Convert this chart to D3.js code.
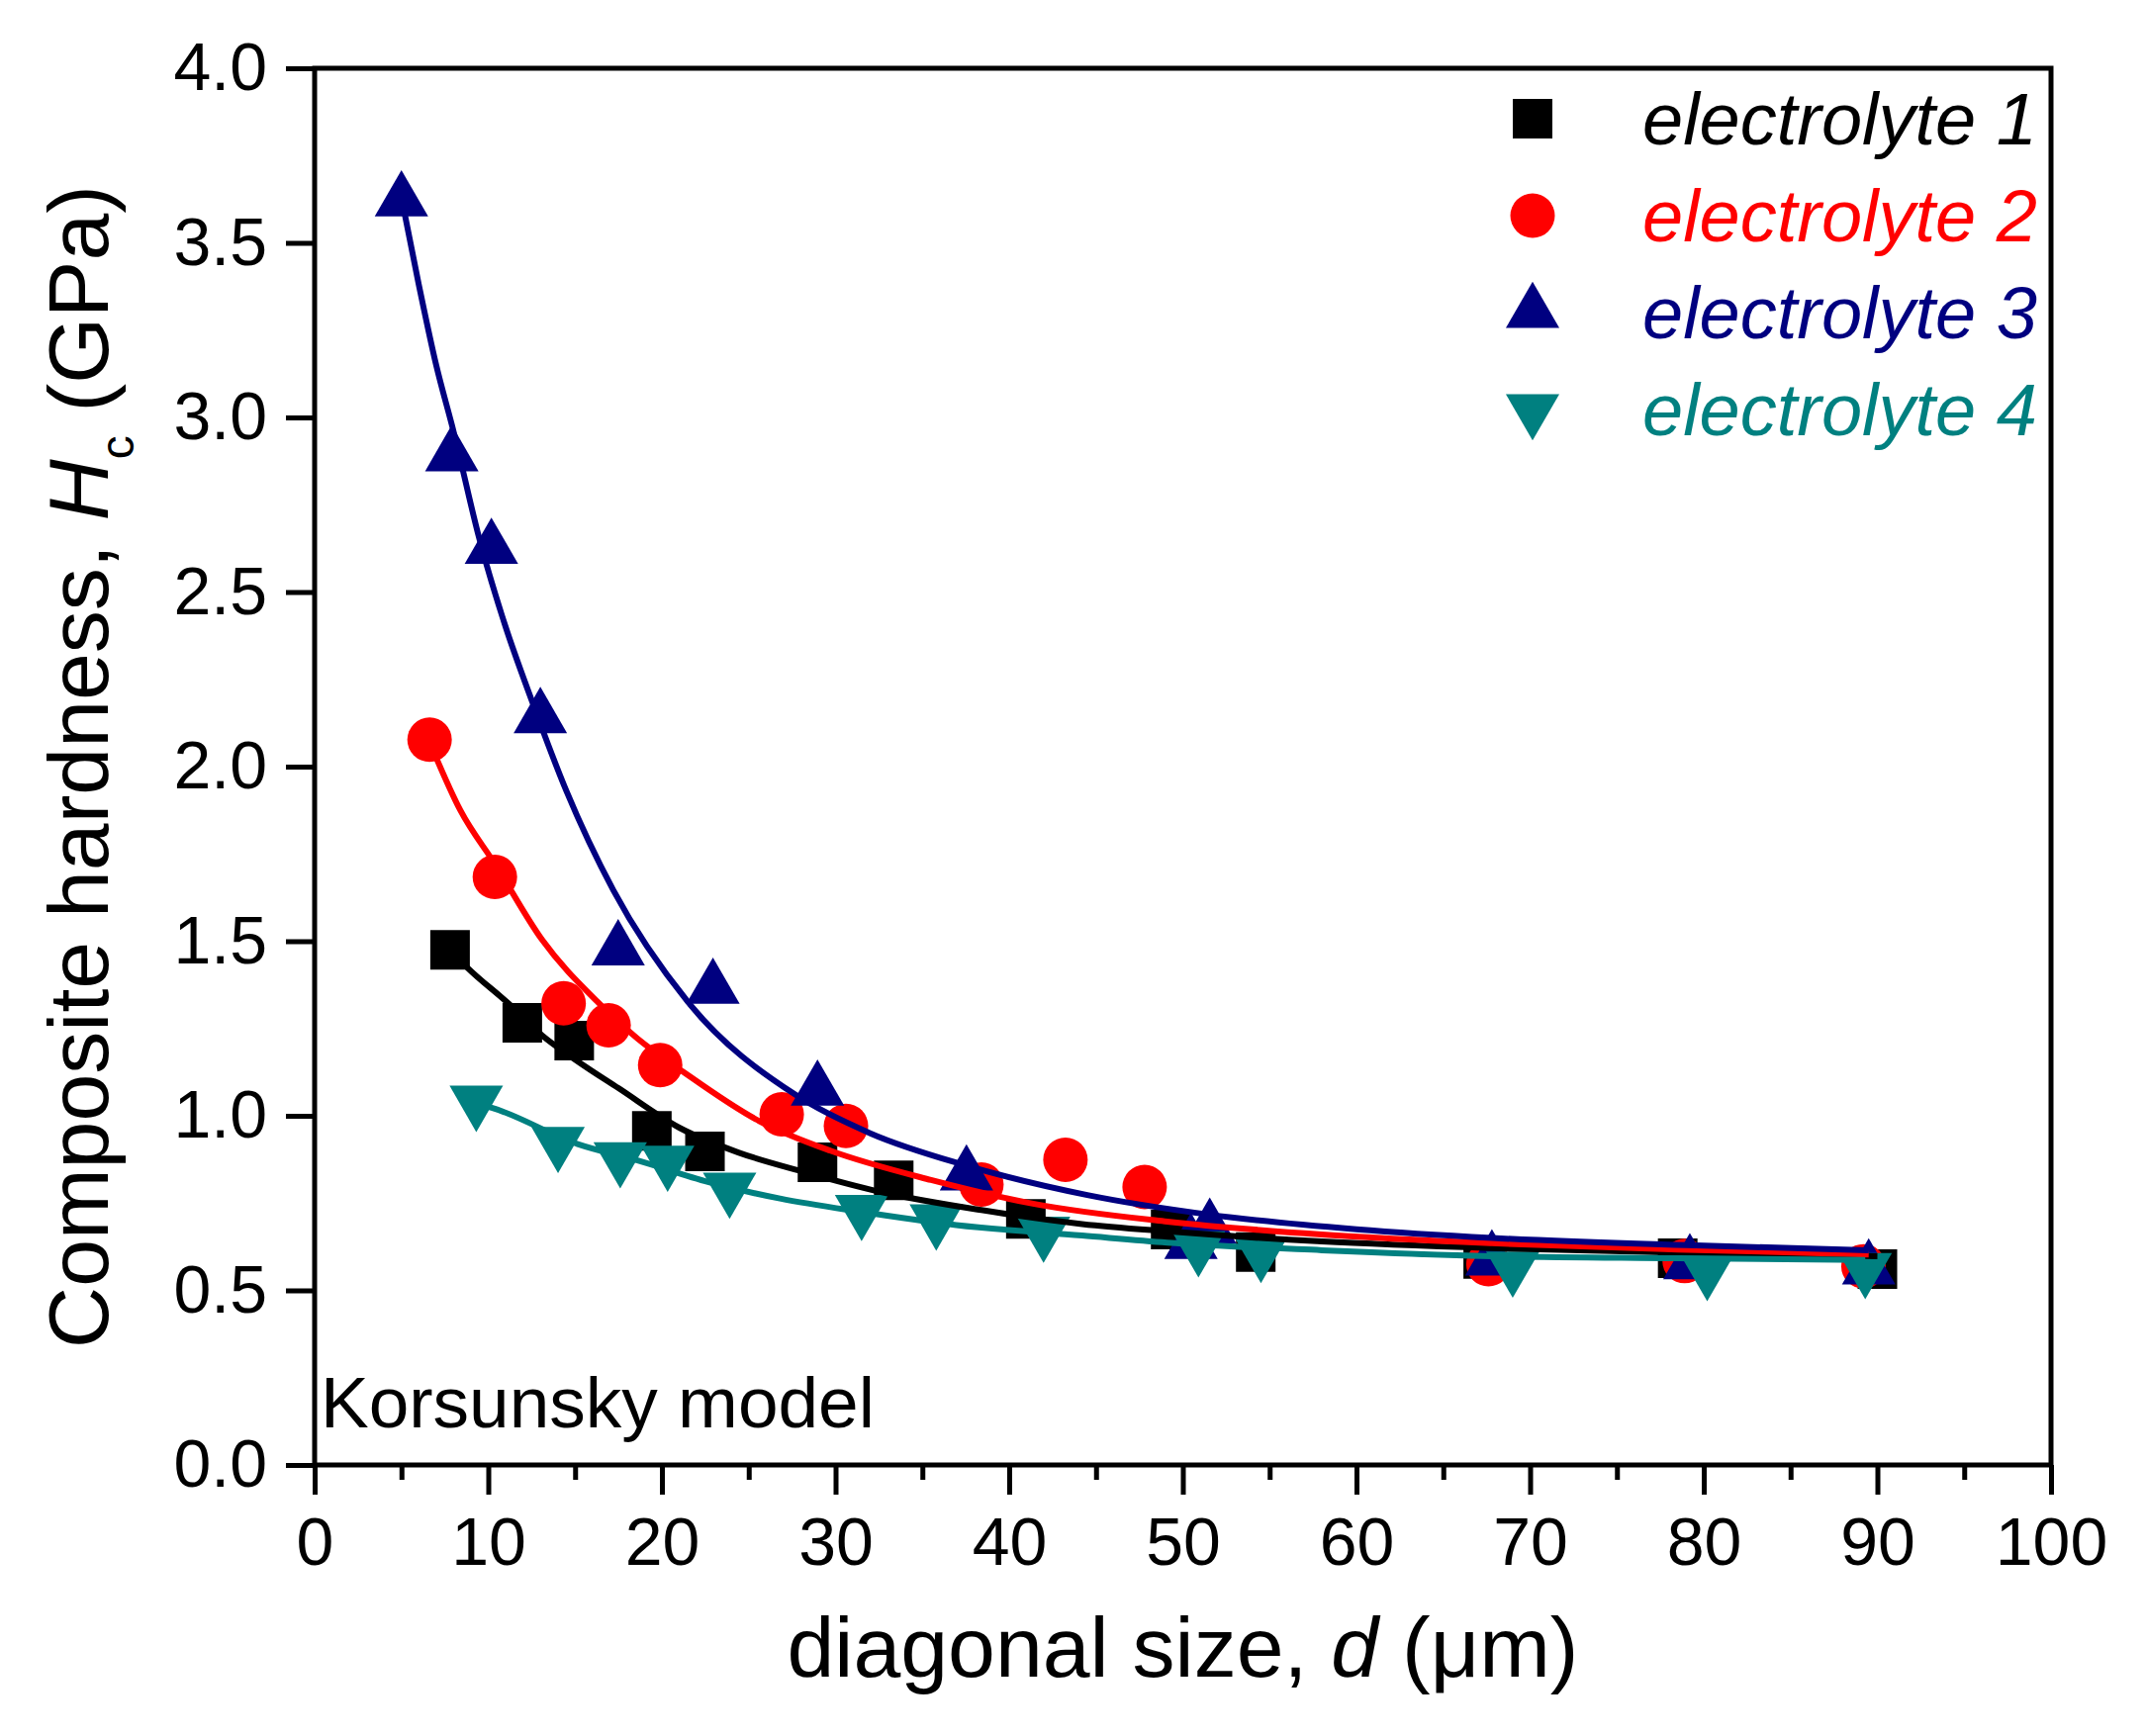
<!DOCTYPE html>
<html lang="en">
<head>
<meta charset="UTF-8">
<script src="https://cdn.jsdelivr.net/npm/d3@7"></script>
<title>Composite hardness</title>
<style>
    body { margin: 0; background: #fff; }
    text { font-family: "Liberation Sans", Arial, sans-serif; }
</style>
</head>
<body>
<svg id="canvas" width="2169" height="1755"></svg>
<script>
// series names and colours
var names  = ["electrolyte 1", "electrolyte 2", "electrolyte 3", "electrolyte 4"];
var colors = ["#000000", "#ff0000", "#000080", "#008080"];

// measured points [d (um), Hc (GPa)]
var points1 = [[7.8,1.475],[11.96,1.266],[14.95,1.215],[19.42,0.957],[22.48,0.898],[28.96,0.867],[33.35,0.815],
               [40.96,0.705],[49.3,0.674],[54.2,0.61],[67.3,0.59],[78.5,0.592],[90.0,0.561]];
var points2 = [[6.62,2.077],[10.38,1.684],[14.34,1.322],[16.93,1.259],[19.9,1.145],[26.9,1.004],[30.6,0.971],
               [38.4,0.803],[43.24,0.874],[47.8,0.796],[67.6,0.575],[78.9,0.584],[89.2,0.569]];
var points3 = [[5.0,3.62],[7.9,2.89],[10.18,2.625],[13.0,2.14],[17.48,1.475],[22.94,1.365],[28.96,1.073],
               [37.54,0.83],[50.47,0.634],[51.55,0.678],[67.8,0.587],[79.2,0.576],[89.5,0.561]];
var points4 = [[9.31,1.042],[14.02,0.924],[17.6,0.88],[20.33,0.87],[23.9,0.793],[31.5,0.729],[35.8,0.702],
               [41.98,0.667],[50.9,0.625],[54.5,0.609],[69.0,0.567],[80.2,0.557],[89.3,0.563]];

// Korsunsky model curves
var fit1 = [[7.8,1.475],[8.8,1.424],[11.2,1.32],[13.1,1.23],[15.15,1.156],[17.5,1.079],[21,0.966],[24.4,0.895],
            [28.2,0.839],[32.6,0.782],[38.4,0.73],[44.2,0.69],[49.1,0.669],[58,0.64],[67.8,0.621],[78.5,0.608],[90,0.598]];
var fit2 = [[6.62,2.07],[8.4,1.874],[10.4,1.72],[13.1,1.504],[16.3,1.326],[18.6,1.221],[21.2,1.127],[25.6,0.985],
            [29.7,0.90],[35.5,0.816],[41.3,0.749],[49.1,0.697],[58,0.66],[67.8,0.635],[78.5,0.617],[89.5,0.603]];
var fit3 = [[5.0,3.63],[6.0,3.38],[7.0,3.15],[8.0,2.96],[9.5,2.65],[11,2.40],[12.5,2.19],[14.5,1.93],[17.2,1.646],
            [21.5,1.326],[27.7,1.06],[32,0.95],[37.5,0.858],[44.5,0.773],[51.5,0.717],[60,0.675],[67.8,0.65],
            [80,0.628],[89.5,0.615]];
var fit4 = [[9.31,1.035],[10.2,1.023],[15.15,0.919],[18.6,0.872],[22.7,0.81],[26.8,0.763],[31.45,0.725],
            [36.95,0.687],[44.2,0.657],[49.1,0.637],[58,0.615],[67.8,0.598],[78.5,0.592],[89.3,0.587]];

var xTickValues  = [0, 10, 20, 30, 40, 50, 60, 70, 80, 90, 100];
var xMinorValues = [5, 15, 25, 35, 45, 55, 65, 75, 85, 95];
var yTickValues  = [0.0, 0.5, 1.0, 1.5, 2.0, 2.5, 3.0, 3.5, 4.0];

var allPoints = [points1, points2, points3, points4];
var allFits   = [fit1, fit2, fit3, fit4];

var svg = d3.select("svg#canvas"),
    plotLeft = 318, plotRight = 2073, plotTop = 69, plotBottom = 1481;

var x = d3.scaleLinear().domain([0, 100]).range([plotLeft, plotRight]);
var y = d3.scaleLinear().domain([0, 4]).range([plotBottom, plotTop]);

// symbols: square, circle, up triangle, down triangle
var symbols = [
    { type: d3.symbolSquare,   size: 1600, rot: 0 },
    { type: d3.symbolCircle,   size: 1590, rot: 0 },
    { type: d3.symbolTriangle, size: 1265, rot: 0 },
    { type: d3.symbolTriangle, size: 1265, rot: 180 }
];

// axes
var xAxis = svg.append("g")
    .attr("transform", "translate(0," + plotBottom + ")")
    .call(d3.axisBottom(x).tickValues(xTickValues).tickSize(30).tickSizeOuter(0));
xAxis.selectAll(".tick text").attr("y", 53).attr("dy", "0.71em").style("font-size", "68px");

svg.append("g")
    .attr("transform", "translate(0," + plotBottom + ")")
    .call(d3.axisBottom(x).tickValues(xMinorValues).tickSize(15).tickSizeOuter(0).tickFormat(""))
    .select(".domain").remove();

var yAxis = svg.append("g")
    .attr("transform", "translate(" + plotLeft + ",0)")
    .call(d3.axisLeft(y).tickValues(yTickValues).tickSize(29).tickSizeOuter(0).tickFormat(d3.format(".1f")));
yAxis.selectAll(".tick text").attr("x", -48).attr("dy", "0.32em").style("font-size", "68px");

svg.selectAll(".tick line").attr("stroke", "#000").attr("stroke-width", 5);
svg.selectAll(".tick text").attr("fill", "#000").style("font-family", "'Liberation Sans', Arial, sans-serif");
svg.selectAll(".domain").remove();

// frame
svg.append("rect")
    .attr("x", plotLeft).attr("y", plotTop)
    .attr("width", plotRight - plotLeft).attr("height", plotBottom - plotTop)
    .attr("fill", "none").attr("stroke", "#000").attr("stroke-width", 5);

// markers
allPoints.forEach(function(pts, i) {
    var sym = d3.symbol().type(symbols[i].type).size(symbols[i].size);
    svg.append("g").selectAll("path")
        .data(pts)
        .enter().append("path")
        .attr("d", sym)
        .attr("transform", function(d) {
            return "translate(" + x(d[0]) + "," + y(d[1]) + ") rotate(" + symbols[i].rot + ")";
        })
        .attr("fill", colors[i]);
});

// fitted curves
var line = d3.line()
    .x(function(d) { return x(d[0]); })
    .y(function(d) { return y(d[1]); })
    .curve(d3.curveMonotoneX);

allFits.forEach(function(f, i) {
    svg.append("path")
        .attr("d", line(f))
        .attr("fill", "none")
        .attr("stroke", colors[i])
        .attr("stroke-width", 6);
});

// legend
var legendY = [120, 218, 316, 414];
names.forEach(function(n, i) {
    var sym = d3.symbol().type(symbols[i].type).size(symbols[i].size);
    svg.append("path")
        .attr("d", sym)
        .attr("transform", "translate(1549," + legendY[i] + ") rotate(" + symbols[i].rot + ")")
        .attr("fill", colors[i]);
    svg.append("text")
        .attr("x", 1660).attr("y", legendY[i] + 26)
        .attr("fill", colors[i])
        .style("font-size", "74px").style("font-style", "italic")
        .text(n);
});

svg.append("text")
    .attr("x", 324).attr("y", 1443)
    .style("font-size", "73px")
    .text("Korsunsky model");

// axis titles
var xt = svg.append("text")
    .attr("x", (plotLeft + plotRight) / 2).attr("y", 1695)
    .attr("text-anchor", "middle")
    .style("font-size", "86px");
xt.append("tspan").text("diagonal size, ");
xt.append("tspan").style("font-style", "italic").text("d");
xt.append("tspan").text(" (\u03bcm)");

var yt = svg.append("text")
    .attr("transform", "translate(109," + (plotTop + plotBottom) / 2 + ") rotate(-90)")
    .attr("text-anchor", "middle")
    .style("font-size", "86px");
yt.append("tspan").text("Composite hardness, ");
yt.append("tspan").style("font-style", "italic").text("H");
yt.append("tspan").attr("dy", 26).style("font-size", "48px").text("c");
yt.append("tspan").attr("dy", -26).text(" (GPa)");
</script>
</body>
</html>
